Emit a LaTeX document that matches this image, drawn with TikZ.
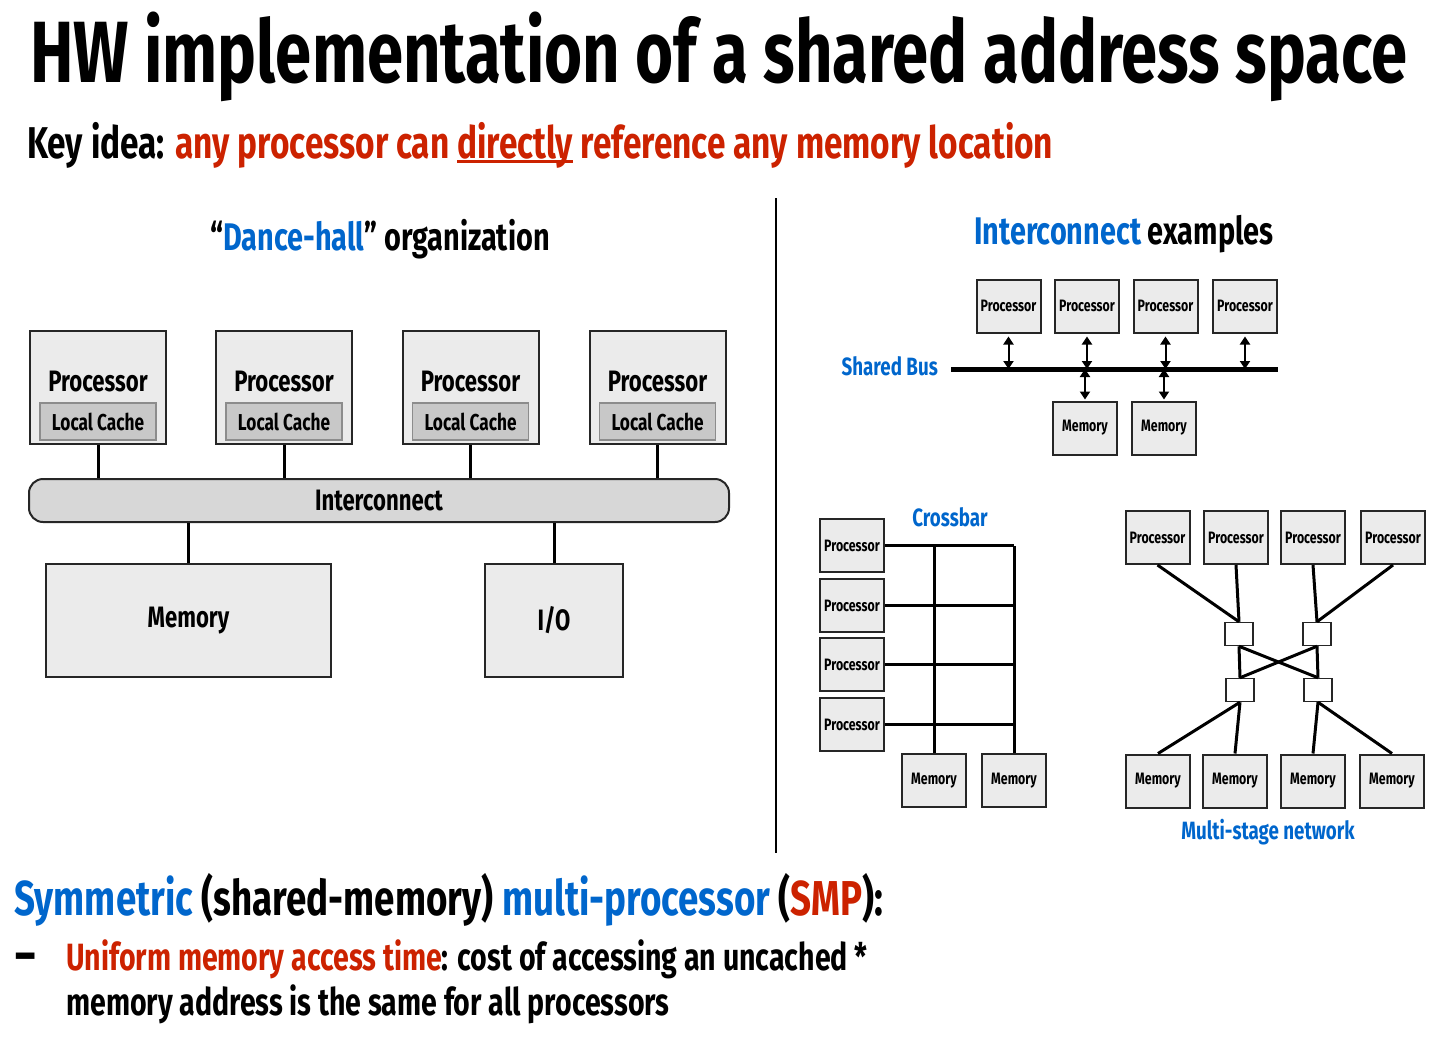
\documentclass[tikz,border=0pt]{standalone}
\usepackage{fontspec}
\setmainfont{Fira Sans}[FakeStretch=0.75]
\usetikzlibrary{arrows.meta, positioning, calc}

\definecolor{slideblue}{RGB}{0,102,204}
\definecolor{slidered}{RGB}{204,34,0}
\definecolor{boxgray}{RGB}{235,235,235}
\definecolor{cachegray}{RGB}{200,200,200}
\definecolor{busgray}{RGB}{215,215,215}

\newlength{\ulwd}
\newcommand{\thickul}[1]{\settowidth{\ulwd}{#1}\rlap{\rule[-4.5pt]{\ulwd}{2.5pt}}#1}

\begin{document}
\begin{tikzpicture}[x=1pt, y=-1pt,
  every node/.style={inner sep=0pt},
  procbox/.style={draw=black!85, line width=2pt, fill=boxgray, minimum width=136pt, minimum height=113pt},
  cachebox/.style={draw=black!45, line width=1.5pt, fill=cachegray, minimum width=116pt, minimum height=37pt, font=\fontsize{23}{26}\selectfont\bfseries},
  smallbox/.style={draw=black!85, line width=2pt, fill=boxgray, minimum width=64pt, minimum height=53pt, font=\fontsize{16.5}{19}\selectfont\bfseries},
  switchbox/.style={draw=black!85, line width=1.5pt, fill=white, minimum width=28pt, minimum height=23pt},
  biglabel/.style={font=\fontsize{29.5}{34}\selectfont\bfseries},
  bluelabel/.style={font=\fontsize{25}{30}\selectfont\bfseries, text=slideblue},
  wire/.style={line width=3pt},
  dblarrow/.style={line width=2pt, {Triangle[length=8pt,width=10pt]}-{Triangle[length=8pt,width=10pt]}}
]
  \useasboundingbox (0,0) rectangle (1453,1045);

  % Titles
  \node[anchor=base west, font=\fontsize{87}{90}\selectfont\bfseries] (title) at (30,82)
    {HW implementation of a shared address space};
  \node[anchor=base west, font=\fontsize{44.5}{48}\selectfont\bfseries] (keyidea) at (27,158)
    {Key idea: \textcolor{slidered}{any processor can \thickul{directly} reference any memory location}};

  % Dance-hall organization
  \node[anchor=base, font=\fontsize{38.5}{42}\selectfont\bfseries] (dhtitle) at (380,250)
    {“\textcolor{slideblue}{Dance-hall}” organization};
  \foreach \i/\x in {1/98,2/284,3/470.5,4/657.5} {
    \node[procbox] (p\i) at (\x,387.5) {};
    \node[biglabel, anchor=base] (pl\i) at (\x,391) {Processor};
    \node[cachebox] (c\i) at (\x,421.5) {Local Cache};
  }
  \node[draw=black!85, line width=2pt, fill=busgray, rounded corners=14pt,
        minimum width=700pt, minimum height=43pt, biglabel] (ic) at (379,500.5) {Interconnect};
  \foreach \i in {1,...,4} {
    \draw[wire] (p\i.south) -- (p\i.south |- ic.north);
  }
  \node[procbox, minimum width=285pt, biglabel] (mem) at (188.5,620.5) {Memory};
  \node[procbox, minimum width=138pt, biglabel] (io) at (554,620.5) {I/O};
  \draw[wire] (mem.north) -- (mem.north |- ic.south);
  \draw[wire] (io.north) -- (io.north |- ic.south);

  % divider
  \draw[line width=2pt] (776,198) -- (776,853);

  % Interconnect examples
  \node[anchor=base, font=\fontsize{38.5}{42}\selectfont\bfseries] (ietitle) at (1124,244)
    {\textcolor{slideblue}{Interconnect} examples};

  % Shared bus
  \coordinate (busL) at (951,369);
  \coordinate (busR) at (1278,369);
  \draw[line width=5pt] (busL) -- (busR);
  \node[anchor=base east, bluelabel] (sbl) at (938,375) {Shared Bus};
  \foreach \i/\x in {1/1008.5,2/1087,3/1165.5,4/1245} {
    \node[smallbox] (sp\i) at (\x,306) {Processor};
    \draw[dblarrow, shorten <=3pt] (sp\i.south) -- (sp\i.south |- busL);
  }
  \foreach \i/\x in {1/1085,2/1164} {
    \node[smallbox] (sm\i) at (\x,428) {Memory};
    \draw[dblarrow, shorten >=1pt] (sm\i.north |- busL) -- (sm\i.north);
  }

  % Crossbar
  \node[anchor=base, bluelabel] (cbl) at (950,526) {Crossbar};
  \foreach \i/\y in {1/545.5,2/605.5,3/664.5,4/724.5} {
    \node[smallbox] (cp\i) at (852,\y) {Processor};
  }
  \node[smallbox] (cm1) at (934,780.5) {Memory};
  \node[smallbox] (cm2) at (1014,780.5) {Memory};
  \foreach \i in {1,...,4} {
    \draw[wire] (cp\i.east) -- (cp\i.east -| cm2.north);
  }
  \draw[wire] (cm1.north) -- (cm1.north |- cp1.east);
  \draw[wire] (cm2.north) -- (cm2.north |- cp1.east);

  % Multi-stage network
  \foreach \i/\x in {1/1157.5,2/1236,3/1313,4/1393} {
    \node[smallbox] (mp\i) at (\x,537.5) {Processor};
  }
  \foreach \i/\x in {1/1158,2/1235,3/1313,4/1392} {
    \node[smallbox] (mm\i) at (\x,781) {Memory};
  }
  \node[switchbox] (sw1) at (1239,634) {};
  \node[switchbox] (sw2) at (1317,634) {};
  \node[switchbox] (sw3) at (1240,690) {};
  \node[switchbox] (sw4) at (1318,690) {};
  \draw[wire] (mp1.south) -- (sw1.north);
  \draw[wire] (mp2.south) -- (sw1.north);
  \draw[wire] (mp3.south) -- (sw2.north);
  \draw[wire] (mp4.south) -- (sw2.north);
  \draw[wire] (sw1.south) -- (sw3.north);
  \draw[wire] (sw1.south) -- (sw4.north);
  \draw[wire] (sw2.south) -- (sw3.north);
  \draw[wire] (sw2.south) -- (sw4.north);
  \draw[wire] (sw3.south) -- (mm1.north);
  \draw[wire] (sw3.south) -- (mm2.north);
  \draw[wire] (sw4.south) -- (mm3.north);
  \draw[wire] (sw4.south) -- (mm4.north);
  \node[anchor=base, bluelabel] (msl) at (1268,839) {Multi-stage network};

  % SMP text
  \node[anchor=base west, font=\fontsize{49}{54}\selectfont\bfseries] (smp) at (14,915)
    {\textcolor{slideblue}{Symmetric} (shared-memory) \textcolor{slideblue}{multi-processor} (\textcolor{slidered}{SMP}):};
  \node[anchor=base west, font=\fontsize{52}{56}\selectfont\bfseries] (dash) at (15,972) {–};
  \node[anchor=base west, font=\fontsize{38}{44}\selectfont\bfseries] (uma1) at (66,970)
    {\textcolor{slidered}{Uniform memory access time}: cost of accessing an uncached *};
  \node[anchor=base west, font=\fontsize{38}{44}\selectfont\bfseries] (uma2) at (66,1015)
    {memory address is the same for all processors};
\end{tikzpicture}
\end{document}
